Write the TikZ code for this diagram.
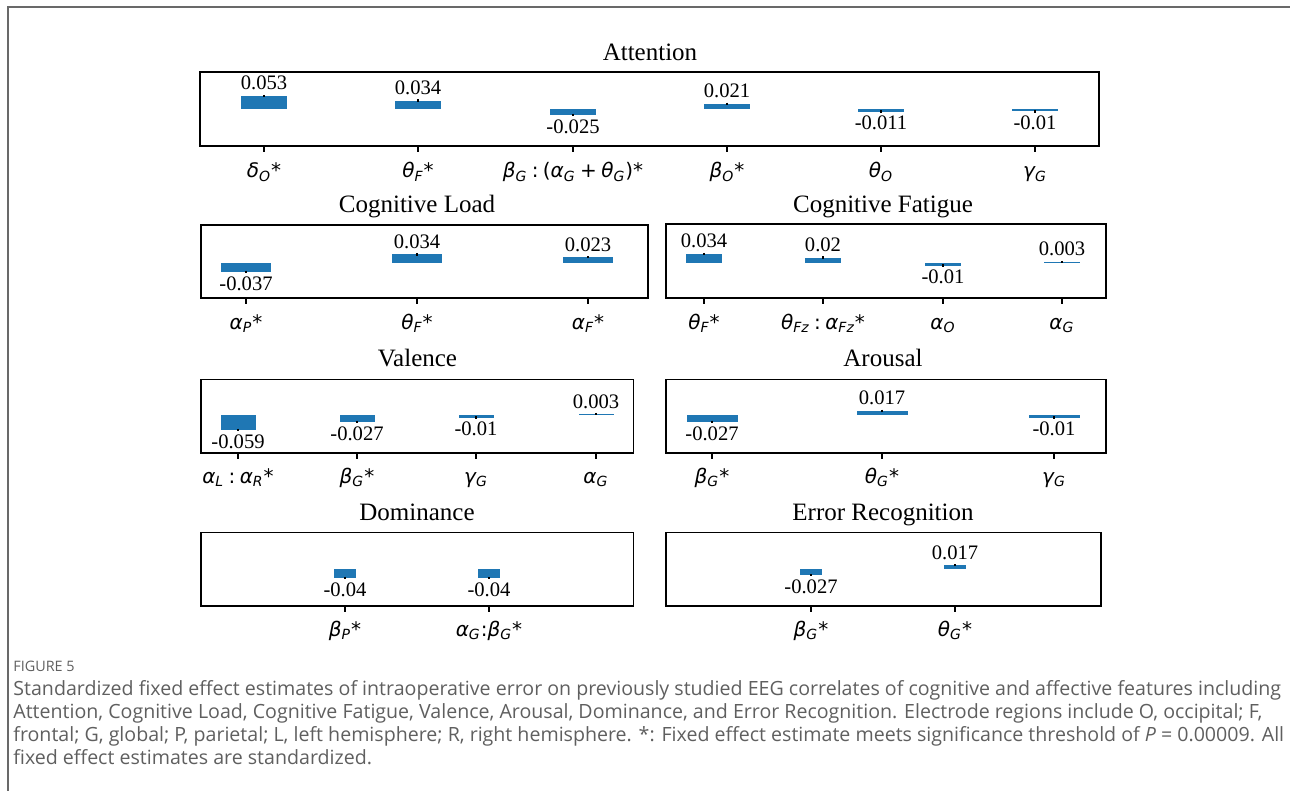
\documentclass[tikz,border=0pt]{standalone}
\usepackage{fontspec}
\setmainfont{Liberation Serif}
\newfontfamily\mtxt{DejaVu Sans}
\newfontfamily\capfont{Open Sans}
\usepackage{tikz}
\usetikzlibrary{positioning}
\definecolor{barblue}{HTML}{1F77B4}
\definecolor{capgray}{RGB}{95,95,95}
\definecolor{framegray}{RGB}{105,105,105}
\tikzset{
  panelbox/.style={draw=black,line width=0.8pt},
  errbar/.style={draw=black,line width=0.6pt},
  ptitle/.style={font=\fontsize{12.5}{14}\selectfont,inner sep=0pt,anchor=base},
  vallab/.style={font=\fontsize{10.3}{12}\selectfont,inner sep=0pt},
  ticklab/.style={font=\fontsize{10}{12}\selectfont\mtxt\itshape,inner sep=0pt,anchor=base},
  tickmark/.style={draw=black,line width=0.7pt},
  captext/.style={font=\fontsize{9.8}{11}\selectfont\capfont,text=capgray,inner sep=0pt,anchor=base west}
}
\newcommand{\sbs}[1]{\textsubscript{#1}}
\newcommand{\st}{{\upshape *}}
\newcommand{\md}{\hspace{0.22em}}
% bar with value label above / below the tip
\newcommand{\posbar}[6]{%
  \fill[barblue] ({#2-#5},#3) rectangle ({#2+#5},#4);
  \draw[errbar] (#2,{#4-1.2}) -- (#2,{#4+1.2});
  \node[vallab,anchor=base] (#1) at (#2,{#4-6}) {#6};}
\newcommand{\negbar}[6]{%
  \fill[barblue] ({#2-#5},#3) rectangle ({#2+#5},#4);
  \draw[errbar] (#2,{#4-1.2}) -- (#2,{#4+1.2});
  \node[vallab,anchor=north] (#1) at (#2,{#4+4}) {#6};}
% tick under the box with its label
\newcommand{\tickat}[5]{%
  \draw[tickmark] (#2,#3) -- (#2,{#3+6});
  \node[ticklab] (#1) at (#2,#4) {#5};}

\begin{document}
\begin{tikzpicture}[x=0.5pt,y=-0.5pt]
\useasboundingbox (0,0) rectangle (1290,791);
\draw[framegray,line width=1pt] (1290,7) -- (8,7) -- (8,791);

% Attention
\node[ptitle] (tatt) at (650,61) {Attention};
\posbar{a1}{264}{109}{96}{23}{0.053}
\posbar{a2}{418}{109}{100.7}{23}{0.034}
\negbar{a3}{573}{109}{115.1}{23}{-0.025}
\posbar{a4}{727}{109}{103.9}{23}{0.021}
\negbar{a5}{881}{109}{111.7}{23}{-0.011}
\negbar{a6}{1035}{109}{111.5}{23}{-0.01}
\draw[panelbox] (200,72) rectangle (1099,146);
\tickat{xa1}{264}{146}{178}{δ\sbs{O}\st}
\tickat{xa2}{418}{146}{178}{θ\sbs{F}\st}
\tickat{xa3}{573}{146}{178}{β\sbs{G}\upshape\md:\md(\itshape α\sbs{G}\upshape\md+\md\itshape θ\sbs{G}\upshape)*}
\tickat{xa4}{727}{146}{178}{β\sbs{O}\st}
\tickat{xa5}{881}{146}{178}{θ\sbs{O}}
\tickat{xa6}{1035}{146}{178}{γ\sbs{G}}

% Cognitive Load
\node[ptitle] (tload) at (417,213) {Cognitive Load};
\negbar{l1}{246}{263}{272.3}{25}{-0.037}
\posbar{l2}{417}{263}{254.5}{25}{0.034}
\posbar{l3}{588}{263}{257.3}{25}{0.023}
\draw[panelbox] (201,225) rectangle (648,298.3);
\tickat{xl1}{246}{298.3}{329}{α\sbs{P}\st}
\tickat{xl2}{417}{298.3}{329}{θ\sbs{F}\st}
\tickat{xl3}{588}{298.3}{329}{α\sbs{F}\st}

% Cognitive Fatigue
\node[ptitle] (tfat) at (883,213) {Cognitive Fatigue};
\posbar{f1}{704}{263}{254}{18}{0.034}
\posbar{f2}{823}{263}{257.7}{18}{0.02}
\negbar{f3}{943}{263}{265.6}{18}{-0.01}
\posbar{f4}{1062}{263}{262}{18}{0.003}
\draw[panelbox] (666,224.3) rectangle (1106,298.3);
\tickat{xf1}{704}{298.3}{329}{θ\sbs{F}\st}
\tickat{xf2}{823}{298.3}{329}{θ\sbs{Fz}\upshape\md:\md\itshape α\sbs{Fz}\st}
\tickat{xf3}{943}{298.3}{329}{α\sbs{O}}
\tickat{xf4}{1062}{298.3}{329}{α\sbs{G}}

% Valence
\node[ptitle] (tval) at (417.5,366.7) {Valence};
\negbar{v1}{238}{415}{430}{17.5}{-0.059}
\negbar{v2}{357}{415}{421.9}{17.5}{-0.027}
\negbar{v3}{476}{415}{417.5}{17.5}{-0.01}
\posbar{v4}{596}{415}{414}{17.5}{0.003}
\draw[panelbox] (201,379.3) rectangle (633.3,452.7);
\tickat{xv1}{238}{452.7}{483}{α\sbs{L}\upshape\md:\md\itshape α\sbs{R}\st}
\tickat{xv2}{357}{452.7}{483}{β\sbs{G}\st}
\tickat{xv3}{476}{452.7}{483}{γ\sbs{G}}
\tickat{xv4}{596}{452.7}{483}{α\sbs{G}}

% Arousal
\node[ptitle] (taro) at (883,366.7) {Arousal};
\negbar{r1}{712}{415}{421.9}{25.5}{-0.027}
\posbar{r2}{882}{415}{410.7}{25.5}{0.017}
\negbar{r3}{1054}{415}{417.5}{25.5}{-0.01}
\draw[panelbox] (666,379.3) rectangle (1106,452.7);
\tickat{xr1}{712}{452.7}{483}{β\sbs{G}\st}
\tickat{xr2}{882}{452.7}{483}{θ\sbs{G}\st}
\tickat{xr3}{1054}{452.7}{483}{γ\sbs{G}}

% Dominance
\node[ptitle] (tdom) at (417,520) {Dominance};
\negbar{d1}{345}{569}{578}{11}{-0.04}
\negbar{d2}{489}{569}{578}{11}{-0.04}
\draw[panelbox] (201,532.3) rectangle (633.3,606);
\tickat{xd1}{345}{606}{636}{β\sbs{P}\st}
\tickat{xd2}{489}{606}{636}{α\sbs{G}\upshape:\itshape β\sbs{G}\st}

% Error Recognition
\node[ptitle] (terr) at (883,520) {Error Recognition};
\negbar{e1}{811}{569}{575.1}{11}{-0.027}
\posbar{e2}{955}{569}{565.2}{11}{0.017}
\draw[panelbox] (666,532.3) rectangle (1101,606);
\tickat{xe1}{811}{606}{636}{β\sbs{G}\st}
\tickat{xe2}{955}{606}{636}{θ\sbs{G}\st}

% caption
\node[captext,font=\fontsize{7.2}{8}\selectfont\capfont] (fig) at (13,671) {FIGURE 5};
\node[captext] (cap1) at (13,695) {Standardized fixed effect estimates of intraoperative error on previously studied EEG correlates of cognitive and affective features including};
\node[captext] (cap2) at (13,718) {Attention, Cognitive Load, Cognitive Fatigue, Valence, Arousal, Dominance, and Error Recognition. Electrode regions include O, occipital; F,};
\node[captext] (cap3) at (13,741) {frontal; G, global; P, parietal; L, left hemisphere; R, right hemisphere. *: Fixed effect estimate meets significance threshold of \textit{P} = 0.00009. All};
\node[captext] (cap4) at (13,764) {fixed effect estimates are standardized.};
\end{tikzpicture}
\end{document}
